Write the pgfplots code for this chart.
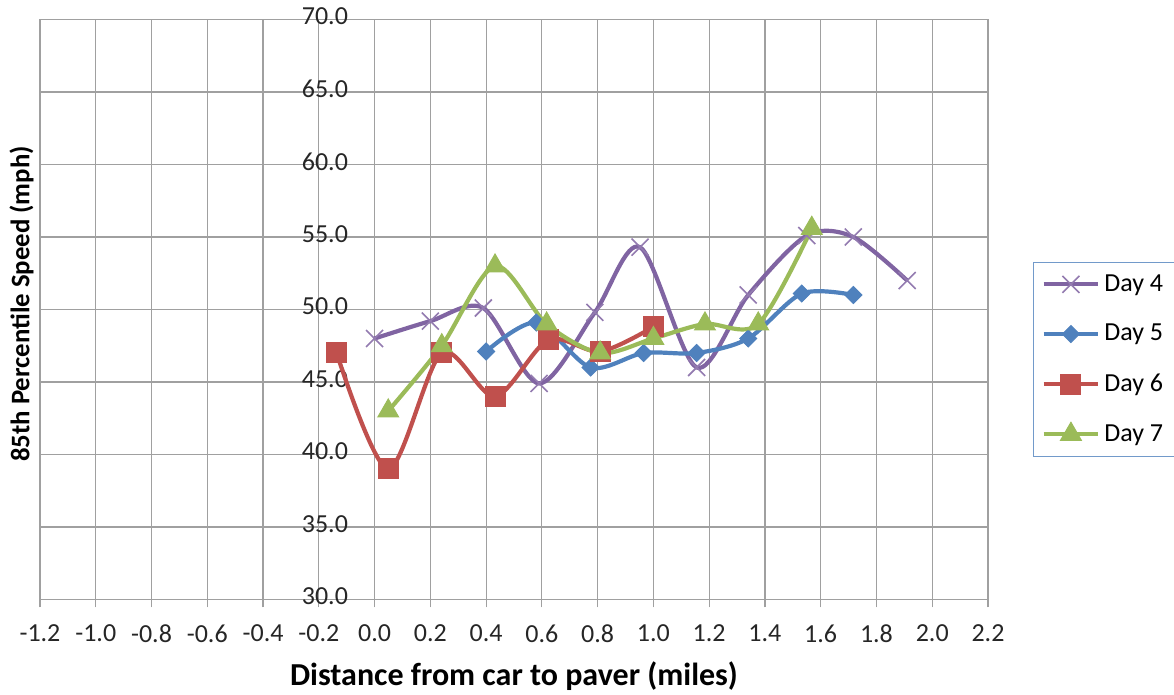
\documentclass[border=0pt]{standalone}
\usepackage{pgfplots}
\pgfplotsset{compat=1.18}
\usepackage{fontspec}
\setmainfont{Carlito}
\definecolor{c4}{HTML}{8064A2}
\definecolor{c5}{HTML}{4F81BD}
\definecolor{c6}{HTML}{C0504D}
\definecolor{c7}{HTML}{9BBB59}
\definecolor{gridc}{HTML}{A0A0A0}
\begin{document}
\begin{tikzpicture}
\begin{axis}[
  scale only axis, width=474pt, height=290pt,
  xmin=-1.2, xmax=2.2, ymin=30, ymax=70,
  xtick={-1.2,-1.0,-0.8,-0.6,-0.4,-0.2,0,0.2,0.4,0.6,0.8,1.0,1.2,1.4,1.6,1.8,2.0,2.2},
  xticklabels={-1.2,-1.0,-0.8,-0.6,-0.4,-0.2,0.0,0.2,0.4,0.6,0.8,1.0,1.2,1.4,1.6,1.8,2.0,2.2},
  ytick={30,35,40,45,50,55,60,65,70},
  yticklabels={30.0,35.0,40.0,45.0,50.0,55.0,60.0,65.0,70.0},
  grid=major, grid style={gridc, line width=0.6pt},
  axis line style={gridc, line width=0.6pt},
  xtick pos=bottom, tick align=outside, major tick length=4pt,
  x tick style={gridc, line width=0.6pt},
  y tick style={draw=none},
  ticklabel style={font=\fontsize{13}{15}\selectfont, text=black!85},
  xticklabel style={yshift=-5pt},
  yticklabel style={anchor=east, xshift=161.5pt, yshift=1.5pt},
  xlabel={Distance from car to paver (miles)},
  xlabel style={font=\fontsize{16}{19}\selectfont\bfseries, at={(axis description cs:0.5,0)}, anchor=center, yshift=-38.5pt},
  ylabel={85th Percentile Speed (mph)},
  ylabel style={font=\fontsize{13.4}{16}\selectfont\bfseries, at={(axis description cs:0,0.5095)}, anchor=center, yshift=9.25pt},
  legend style={at={(rel axis cs:1.0475,0.5819)}, anchor=north west, draw=c5!80, line width=0.5pt,
    font=\fontsize{13}{15}\selectfont, row sep=11pt, inner xsep=4pt, inner ysep=4pt},
  legend cell align=left,
  legend image code/.code={\draw[mark repeat=2,mark phase=2] plot coordinates {(0cm,0cm)(0.48cm,0cm)(0.96cm,0cm)};},
]
\addplot[c4, line width=2.1pt, smooth, tension=0.5, mark=x, mark size=6pt, mark options={line width=0.8pt, c4!85}] coordinates {
(0.0,48.0)(0.2,49.2)(0.39,50.1)(0.59,44.9)(0.79,49.8)(0.952,54.3)(1.155,46.0)(1.34,51.0)(1.55,55.1)(1.717,55.0)(1.91,52.0)};
\addlegendentry{Day 4}
\addplot[c5, line width=2.1pt, smooth, tension=0.5, mark=square*, mark size=3pt, mark options={rotate=45, line width=0.5pt, fill=c5, draw=c5}] coordinates {
(0.40,47.1)(0.58,49.1)(0.775,46.0)(0.965,47.0)(1.155,47.0)(1.34,48.0)(1.532,51.1)(1.717,51.0)};
\addlegendentry{Day 5}
\addplot[c6, line width=2.1pt, smooth, tension=0.5, mark=square*, mark size=5pt, mark options={line width=0.5pt, fill=c6, draw=c6}] coordinates {
(-0.136,47.0)(0.049,39.0)(0.241,47.0)(0.432,44.0)(0.623,47.9)(0.809,47.1)(1.0,48.8)};
\addlegendentry{Day 6}
\addplot[c7, line width=2.1pt, smooth, tension=0.5, mark=triangle*, mark size=6pt, mark options={line width=0.5pt, fill=c7, draw=c7}] coordinates {
(0.049,43.0)(0.241,47.5)(0.432,53.0)(0.617,49.0)(0.809,47.0)(1.0,48.0)(1.185,49.0)(1.376,49.0)(1.568,55.6)};
\addlegendentry{Day 7}
\end{axis}
\pgfresetboundingbox
\path[use as bounding box] (-20pt,-47.5pt) rectangle (567pt,299.75pt);
\end{tikzpicture}
\end{document}
